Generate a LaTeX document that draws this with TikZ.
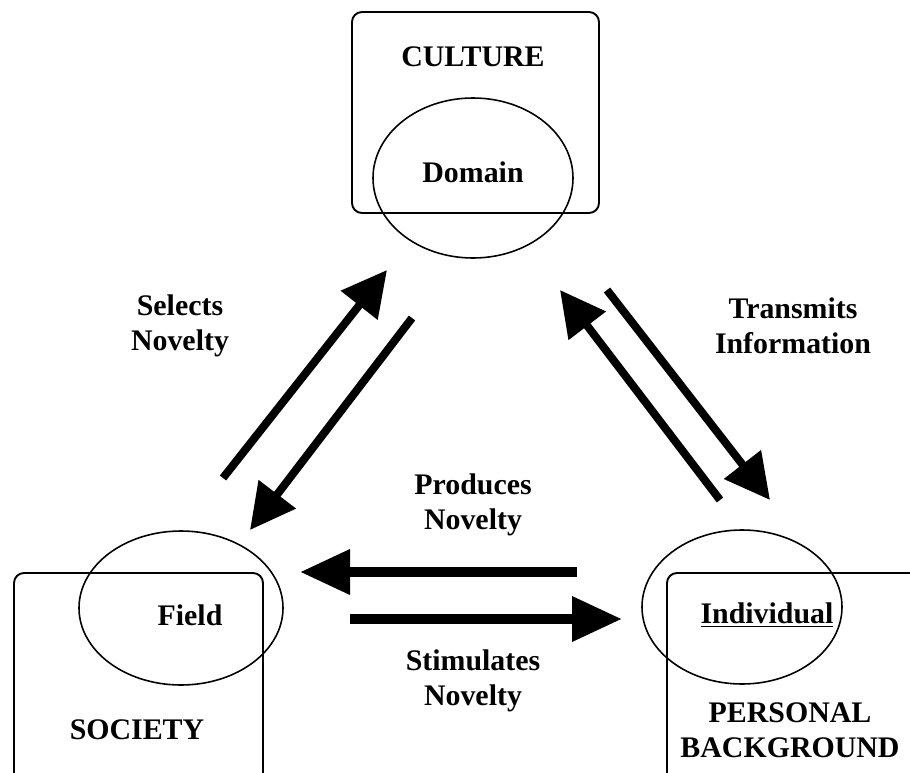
\documentclass[tikz,border=0pt]{standalone}
\usepackage{fontspec}
\setmainfont{Liberation Serif}
\usetikzlibrary{arrows.meta}
\tikzset{
  every node/.style={font=\fontsize{17}{20}\selectfont\bfseries, align=center},
  wide/.style={line width=2mm, -{Triangle[length=10mm,width=8.6mm]}},
  slant/.style={line width=1.6mm, -{Triangle[length=9mm,width=9mm]}},
  frame/.style={line width=1.1pt, rounded corners=2mm},
  ring/.style={line width=0.9pt},
}

\begin{document}
\begin{tikzpicture}[x=0.2mm,y=-0.2mm]
  \useasboundingbox (0,0) rectangle (910,773);
  \clip (0,0) rectangle (910,773);
  % the three frames
  \draw[frame] (352,12) rectangle (599,213);
  \draw[frame] (14,573) rectangle (263,810);
  \draw[frame] (667,573) rectangle (950,810);
  % the three rings
  \draw[ring] (473,178) ellipse (100 and 80);
  \draw[ring] (181,608) ellipse (102 and 77);
  \draw[ring] (742,607) ellipse (100 and 77);
  \node (culture) at (473,57) {CULTURE};
  \node (domain) at (473,172) {Domain};
  \node (field) at (190,615) {Field};
  \node (society) at (137,730) {SOCIETY};
  \node (individual) at (767,615) {\underline{Individual}};
  \node (personal) at (790,730) {PERSONAL\\BACKGROUND};
  % labels
  \node (selects) at (180,326) {Selects\\Novelty};
  \node (transmits) at (793,326) {Transmits\\Information};
  \node (produces) at (473,505) {Produces\\Novelty};
  \node (stimulates) at (473,681) {Stimulates\\Novelty};
  % arrow ends
  \coordinate (fa) at (223,478);
  \coordinate (ca) at (387,270);
  \coordinate (cb) at (412,318);
  \coordinate (fb) at (250,530);
  \coordinate (ia) at (720,500);
  \coordinate (cc) at (560,290);
  \coordinate (cd) at (607,290);
  \coordinate (ib) at (770,500);
  \coordinate (ic) at (577,572);
  \coordinate (fc) at (300,572);
  \coordinate (fd) at (350,619);
  \coordinate (id) at (622,619);
  \draw[slant] (fa) -- (ca);
  \draw[slant] (cb) -- (fb);
  \draw[slant] (ia) -- (cc);
  \draw[slant] (cd) -- (ib);
  \draw[wide] (ic) -- (fc);
  \draw[wide] (fd) -- (id);
\end{tikzpicture}
\end{document}
